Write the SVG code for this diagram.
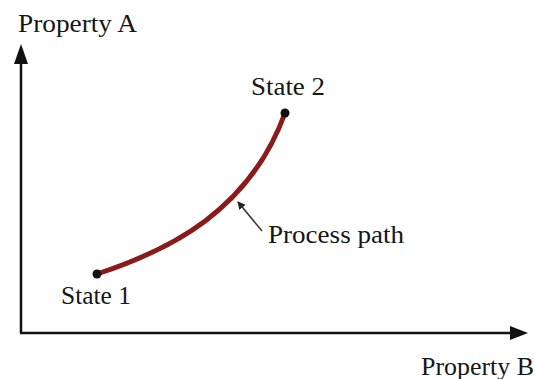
<svg xmlns="http://www.w3.org/2000/svg" width="534" height="379" viewBox="0 0 534 379">
<style>
.t{font-family:"Liberation Serif","Times New Roman",serif;font-size:25px;fill:#161616;lengthAdjust:spacingAndGlyphs}
.ax{stroke:#111;stroke-width:2.5;fill:none}
</style>
<defs>
<marker id="ah" markerWidth="8" markerHeight="8" refX="7" refY="4" orient="auto" markerUnits="userSpaceOnUse">
<path d="M0,0 L8,4 L0,8 z" fill="#222"/>
</marker>
</defs>
<rect width="534" height="379" fill="#fff"/>
<g id="connectors">
<path class="ax" d="M21,333 V60"/>
<path d="M21,44 L14,64 L28,64 z" fill="#111"/>
<path class="ax" d="M20,333 H512"/>
<path d="M528,333 L510,326 L510,340 z" fill="#111"/>
<path id="process" d="M97,274 C170,250 250,210 285,113" stroke="#8b1a1a" stroke-width="5" fill="none" stroke-linecap="round"/>
<path d="M262,231 L238,202" stroke="#333" stroke-width="1.5" fill="none" marker-end="url(#ah)"/>
</g>
<g id="state1"><circle cx="97" cy="274" r="4.5" fill="#111"/><text class="t" x="61" y="304" textLength="70" lengthAdjust="spacingAndGlyphs">State 1</text></g>
<g id="state2"><circle cx="285" cy="113" r="4.5" fill="#111"/><text class="t" x="251" y="95" textLength="74" lengthAdjust="spacingAndGlyphs">State 2</text></g>
<g id="label-path"><text class="t" x="268" y="243" textLength="136" lengthAdjust="spacingAndGlyphs">Process path</text></g>
<g id="label-a"><text class="t" x="18" y="32" textLength="119" lengthAdjust="spacingAndGlyphs">Property A</text></g>
<g id="label-b"><text class="t" x="421" y="375" textLength="113" lengthAdjust="spacingAndGlyphs">Property B</text></g>
</svg>
